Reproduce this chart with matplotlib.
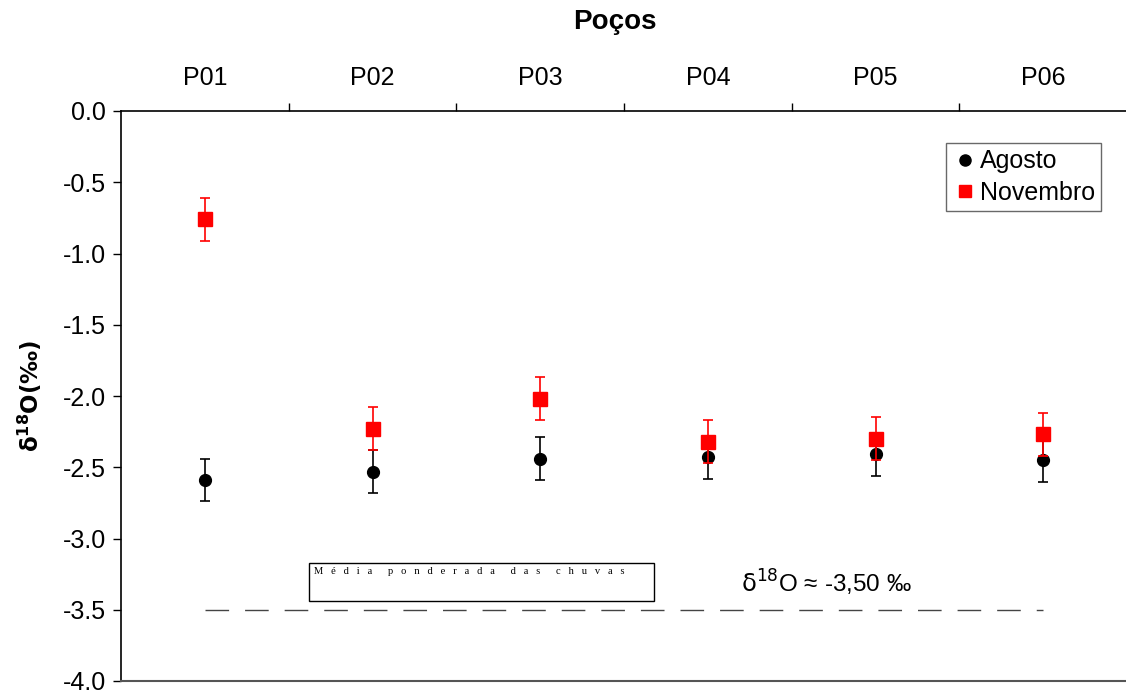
import matplotlib
matplotlib.use("Agg")
import matplotlib.pyplot as plt
from matplotlib.patches import Rectangle
from matplotlib.lines import Line2D
import numpy as np

categories = ["P01", "P02", "P03", "P04", "P05", "P06"]
agosto = [-2.59, -2.53, -2.44, -2.43, -2.41, -2.45]
agosto_err = [0.15, 0.15, 0.15, 0.15, 0.15, 0.15]
novembro = [-0.76, -2.23, -2.02, -2.32, -2.30, -2.27]
novembro_err = [0.15, 0.15, 0.15, 0.15, 0.15, 0.15]
rain_mean = -3.50
yticks = [0.0, -0.5, -1.0, -1.5, -2.0, -2.5, -3.0, -3.5, -4.0]

plt.rcParams['font.family'] = ['Liberation Sans', 'DejaVu Sans']

fig = plt.figure(figsize=(11.26, 6.92), dpi=100)
ax = fig.add_axes([121/1126, 1-681/692, 1.0-121/1126+0.001, (681-111)/692])

x = np.arange(1, len(categories)+1)
ax.errorbar(x, agosto, yerr=agosto_err, fmt='o', color='black', ms=8.5,
            capsize=3.5, elinewidth=1.2, capthick=1.2, zorder=3)
ax.errorbar(x, novembro, yerr=novembro_err, fmt='s', color='#FF0000', ms=9.5,
            capsize=3.5, elinewidth=1.2, capthick=1.2, zorder=4)

ax.plot([x[0], x[-1]], [rain_mean, rain_mean], color='#444444', lw=1.0,
        dashes=(17, 11.5), zorder=2)

ax.set_xlim(0.5, len(categories)+0.5)
ax.set_ylim(-4.0, 0.0)
ax.set_yticks(yticks)
ax.set_yticklabels([f"{v:.1f}" for v in yticks], fontsize=18)
ax.tick_params(axis='y', direction='out', length=6, width=1, pad=5)

ax.xaxis.tick_top()
ax.set_xticks(x)
ax.set_xticklabels(categories, fontsize=18)
ax.set_xticks(np.arange(1.5, len(categories)), minor=True)
ax.tick_params(axis='x', which='major', length=0, pad=15)
ax.tick_params(axis='x', which='minor', direction='out', length=6, width=1, top=True, bottom=False)
ax.tick_params(axis='x', bottom=False, labelbottom=False)

ax.spines['right'].set_visible(False)
ax.spines['top'].set_linewidth(1.2)
ax.spines['left'].set_linewidth(1.2)
ax.spines['bottom'].set_color('#555555')
ax.spines['bottom'].set_linewidth(1.5)

ax.set_ylabel(r"$\mathbf{\delta^{18}O(‰)}$", fontsize=16.5, fontweight='bold')
ax.yaxis.set_label_coords(-(121-44)/1005, 0.5)
fig.text(615/1126, 1-22/692, "Poços", fontsize=20, fontweight='bold', ha='center', va='center')

handles = [Line2D([], [], ls='none', marker='o', color='black', ms=8),
           Line2D([], [], ls='none', marker='s', color='#FF0000', ms=9)]
leg = ax.legend(handles, ["Agosto", "Novembro"], loc='upper right',
                bbox_to_anchor=((1101-121)/(1126-121+1), 1-(143-111)/570),
                fontsize=18, frameon=True, fancybox=False, edgecolor='#444444',
                handletextpad=0.1, borderpad=0.25, labelspacing=0.3, handlelength=1.0,
                borderaxespad=0)
leg.get_frame().set_linewidth(1.0)

# text box
bx0 = 0.5 + (309-121)/167.6
bx1 = 0.5 + (654-121)/167.6
by1 = -(563-111)/142.5
by0 = -(601-111)/142.5
ax.add_patch(Rectangle((bx0, by0), bx1-bx0, by1-by0, fill=False, edgecolor='black', lw=1.0, zorder=5))
words = ["Média", "ponderada", "das", "chuvas"]
spaced = "      ".join("   ".join(w) for w in words)
ax.text(bx0 + 0.03, by1 - 0.03, spaced,
        fontsize=7.6, family='Liberation Serif', ha='left', va='top', zorder=6)

ax.text(0.5 + (826-121)/167.6, -(583-111)/142.5, r"$\mathrm{\delta}^{18}$O ≈ -3,50 ‰",
        fontsize=17.5, ha='center', va='center')

fig.savefig("out.png", dpi=100)
